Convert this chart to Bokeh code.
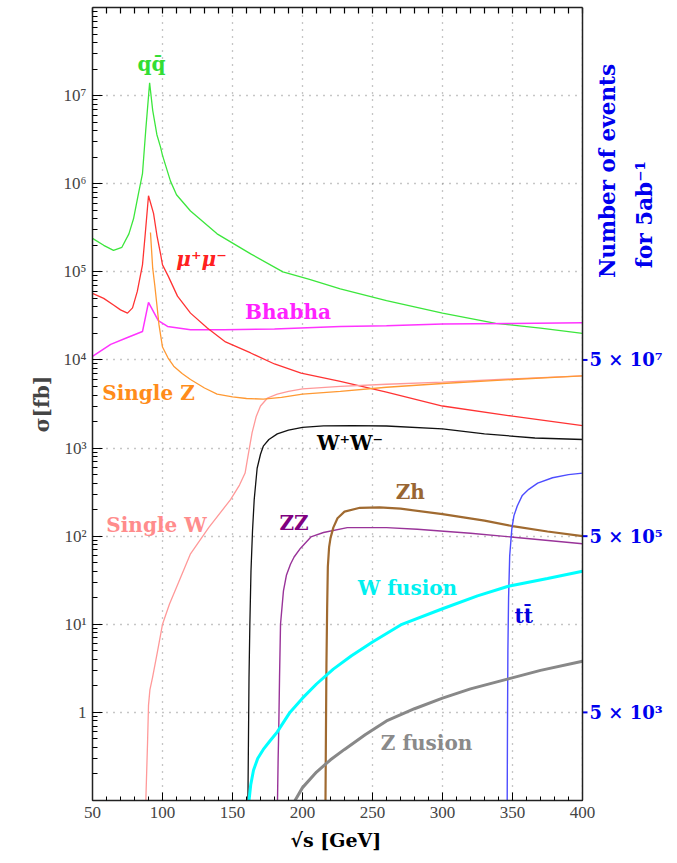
import numpy as np
from bokeh.plotting import figure
from bokeh.models import (LinearAxis, FixedTicker, Range1d, ColumnDataSource, BoxAnnotation,
                          Span, Title)
from bokeh.core.properties import value
from bokeh.embed import file_html
from bokeh.resources import INLINE

# ---------------- data (sqrt(s) in GeV, sigma in fb) ----------------
qq_x = [50, 58, 65, 71, 76, 79.3, 83, 85.7, 88, 90.8, 93, 96, 98.6, 100, 105.7, 110, 120, 139, 163, 186, 205, 227, 260, 300, 338, 370, 400]
qq_y = [2.4e5, 2.0e5, 1.75e5, 1.9e5, 2.7e5, 4e5, 8e5, 1.3e6, 4e6, 1.4e7, 6.8e6, 3.6e6, 2.6e6, 2.1e6, 1.07e6, 7.5e5, 4.9e5, 2.7e5, 1.6e5, 1.0e5, 8.2e4, 6.4e4, 4.7e4, 3.4e4, 2.6e4, 2.3e4, 2.0e4]

mumu_x = [50, 58, 65, 70, 75, 78.6, 82, 85.7, 87.5, 90, 93.6, 96, 98.6, 100, 104, 110.7, 120, 132, 145, 163, 180, 199, 227, 260, 300, 350, 400]
mumu_y = [5.7e4, 5.0e4, 4.2e4, 3.7e4, 3.4e4, 3.9e4, 6e4, 1.2e5, 2.5e5, 7.3e5, 4.6e5, 2.6e5, 1.6e5, 1.2e5, 9e4, 5.3e4, 3.4e4, 2.3e4, 1.6e4, 1.2e4, 9e3, 7.1e3, 5.7e3, 4.3e3, 3.0e3, 2.3e3, 1.8e3]

bhabha_x = [50, 63, 75, 85.7, 90, 97, 103.6, 120, 144, 180, 227, 260, 300, 350, 400]
bhabha_y = [1.1e4, 1.5e4, 1.8e4, 2.1e4, 4.5e4, 2.8e4, 2.4e4, 2.2e4, 2.2e4, 2.25e4, 2.4e4, 2.45e4, 2.55e4, 2.6e4, 2.65e4]

singleZ_x = [91.4, 93, 94.5, 96, 97.5, 100, 104, 108, 114, 120, 130, 139, 150, 160, 172, 185, 200, 227, 260, 300, 350, 400]
singleZ_y = [2.8e5, 1.1e5, 7e4, 4.2e4, 2.5e4, 1.4e4, 1.05e4, 8.5e3, 7e3, 6e3, 4.8e3, 4.1e3, 3.8e3, 3.65e3, 3.6e3, 3.75e3, 4.1e3, 4.4e3, 4.9e3, 5.4e3, 6.0e3, 6.6e3]

singleW_x = [88, 89.3, 90, 91, 92.9, 96.4, 100, 105, 110.7, 120, 133, 148.6, 155, 159, 161, 164, 167, 170, 175, 182, 190, 200, 227, 260, 300, 350, 400]
singleW_y = [0.09, 0.44, 1.2, 1.8, 2.5, 4.9, 10, 17, 28, 63, 125, 260, 380, 520, 800, 1.5e3, 2.3e3, 3e3, 3.7e3, 4.1e3, 4.4e3, 4.7e3, 5.0e3, 5.3e3, 5.6e3, 6.1e3, 6.6e3]

ww_x = [161.0, 161.4, 161.8, 162.4, 163.2, 164.3, 165.5, 167.6, 170, 172, 176, 182, 190, 200, 215, 235, 260, 300, 330, 366, 400]
ww_y = [0.09, 0.5, 2.5, 10, 40, 115, 260, 590, 850, 1050, 1250, 1450, 1600, 1720, 1790, 1800, 1780, 1650, 1450, 1300, 1250]

zz_x = [182.1, 182.6, 183, 183.6, 184.3, 186.4, 188.5, 191.4, 194, 198.6, 206, 215, 232, 260, 282, 320, 349, 400]
zz_y = [0.09, 0.3, 0.6, 2.5, 10, 24, 36, 48, 58, 73, 98, 110, 125, 125, 120, 108, 98, 82]

zh_x = [216.4, 216.8, 217.1, 217.6, 218.1, 219, 220, 222, 225, 230, 241, 255, 270, 300, 330, 350, 375, 400]
zh_y = [0.09, 0.8, 3.5, 15, 45, 75, 95, 125, 160, 190, 210, 212, 205, 178, 150, 130, 113, 100]

tt_x = [346.2, 346.4, 346.7, 347.2, 348, 349.5, 351, 353.4, 357, 361.6, 368, 378.6, 390, 400]
tt_y = [0.09, 0.6, 5, 20, 60, 120, 170, 220, 290, 340, 400, 460, 500, 520]

wfus_x = [161.5, 163, 165, 168, 172, 177, 182, 191, 200, 210, 222, 235, 250, 271, 300, 325, 347, 375, 400]
wfus_y = [0.09, 0.15, 0.22, 0.3, 0.38, 0.48, 0.6, 1.0, 1.45, 2.1, 3.1, 4.4, 6.3, 10, 15, 21, 27, 33, 40]

zfus_x = [193, 200, 210, 220, 230, 245, 260, 280, 300, 320, 347, 370, 400]
zfus_y = [0.09, 0.14, 0.21, 0.29, 0.38, 0.56, 0.8, 1.1, 1.45, 1.85, 2.4, 3.0, 3.8]

# curve labels
label_text = ["q\u0071\u0304", "\u03bc\u207a\u03bc\u207b", "Bhabha", "Single Z", "Single W",
              "W\u207aW\u207b", "ZZ", "Zh", "W fusion", "t\u0074\u0304", "Z fusion"]
label_x = [92.1, 127.9, 189.6, 90, 95.7, 234, 194, 277, 275, 358, 288.6]
label_y = [2.3e7, 1.4e5, 3.5e4, 4.2e3, 133, 1.15e3, 141, 316, 25.7, 12.3, 0.45]
label_color = ["#33dd33", "#ff2020", "#ff22ff", "#ff8c1a", "#ff8c8c",
               "#000000", "#800080", "#996633", "#00f0f0", "#0000dd", "#8a8a8a"]
label_style = ["bold", "bold italic", "bold", "bold", "bold",
               "bold", "bold", "bold", "bold", "bold", "bold"]

# axis ticks
x_lo, x_hi = 50, 400
y_lo, y_hi = 0.1, 1e8
x_major = [50, 100, 150, 200, 250, 300, 350, 400]
y_major = [1, 10, 100, 1000, 10000, 100000, 1000000, 10000000]
y_major_labels = ["1", "10\u00b9", "10\u00b2", "10\u00b3", "10\u2074", "10\u2075", "10\u2076", "10\u2077"]
lumi_fb_inv = 5000  # 5 ab^-1
event_ticks = [5000, 500000, 50000000]
event_labels = ["5 \u00d7 10\u00b3", "5 \u00d7 10\u2075", "5 \u00d7 10\u2077"]
right_title = ["Number of events", "for 5ab\u207b\u00b9"]
x_title = "\u221as [GeV]"
y_title = "\u03c3[fb]"

# ---------------- figure ----------------
# the frame is extended to the right edge so that the secondary-axis texts are
# drawn inside it; the plotted region (50..400 GeV) is framed separately.
px_per_gev = 490 / (x_hi - x_lo)
x_end = x_lo + 585 / px_per_gev
p = figure(width=677, height=863, x_range=Range1d(x_lo, x_end), y_range=Range1d(y_lo, y_hi),
           y_axis_type="log", output_backend="svg", toolbar_location=None,
           min_border_left=92, min_border_right=0, min_border_top=7, min_border_bottom=63)
p.background_fill_color = "white"
p.border_fill_color = "white"
p.outline_line_color = None

# grids, covered to the right of 400 GeV
x_minor = list(range(50, 401, 10))
xticker = FixedTicker(ticks=x_major, minor_ticks=x_minor)
yticker = FixedTicker(ticks=y_major,
                      minor_ticks=[m * 10.0 ** d for d in range(-1, 8) for m in range(2, 10)])
for g in p.xgrid:
    g.ticker = xticker
for g in p.ygrid:
    g.ticker = yticker
p.grid.grid_line_color = "#8c8c8c"
p.grid.grid_line_dash = "1 6"
p.grid.grid_line_width = 1.3
p.add_layout(BoxAnnotation(left=x_hi, fill_color="white", fill_alpha=1.0, line_color=None,
                           level="underlay"))

series = [
    (qq_x, qq_y, "#3ce63c", 1.3),
    (bhabha_x, bhabha_y, "#ff33ff", 1.5),
    (mumu_x, mumu_y, "#ff3333", 1.3),
    (singleW_x, singleW_y, "#ff9999", 1.3),
    (singleZ_x, singleZ_y, "#ff9933", 1.3),
    (ww_x, ww_y, "#111111", 1.3),
    (zz_x, zz_y, "#993399", 1.4),
    (zh_x, zh_y, "#a06a30", 2.2),
    (tt_x, tt_y, "#4d4dff", 1.4),
    (wfus_x, wfus_y, "#00ffff", 3.0),
    (zfus_x, zfus_y, "#888888", 3.0),
]
for xs, ys, col, lw in series:
    p.line(xs, ys, line_color=col, line_width=lw)

lsrc = ColumnDataSource(dict(x=label_x, y=label_y, text=label_text, color=label_color, style=label_style))
p.text(x="x", y="y", text="text", source=lsrc, text_color="color",
       text_font=value("DejaVu Serif"), text_font_style="style",
       text_font_size=value("20px"), text_align="center", text_baseline="middle")

# ---------------- axes ----------------
xa = p.xaxis[0]
xa.ticker = xticker
xa.bounds = (x_lo, x_hi)
xa.major_tick_in = 8
xa.major_tick_out = 0
xa.minor_tick_in = 4
xa.minor_tick_out = 0
xa.major_label_text_font = "Liberation Serif"
xa.major_label_text_font_size = "17px"
xa.major_label_standoff = 6
xa.axis_line_color = "#222222"
xa.axis_line_width = 1.5

# x-axis title under the 50..400 GeV region (offset from the frame's left edge, px)
p.add_layout(Title(text=x_title, align="left", offset=198, standoff=12,
                   text_font="DejaVu Serif", text_font_style="bold", text_font_size="19px",
                   text_color="black"), "below")

ya = p.yaxis[0]
ya.ticker = yticker
ya.major_label_overrides = {v: s for v, s in zip(y_major, y_major_labels)}
ya.major_tick_in = 10
ya.major_tick_out = 0
ya.minor_tick_in = 5
ya.minor_tick_out = 0
ya.major_label_text_font = "Liberation Serif"
ya.major_label_text_font_size = "17px"
ya.major_label_standoff = 6
ya.axis_label = y_title
ya.axis_label_text_font = "DejaVu Serif"
ya.axis_label_text_font_style = "bold"
ya.axis_label_text_font_size = "20px"
ya.axis_label_standoff = 7
ya.axis_line_color = "#222222"
ya.axis_line_width = 1.5

# top frame edge with ticks only (no labels)
top = LinearAxis(ticker=FixedTicker(ticks=[], minor_ticks=x_minor), bounds=(x_lo, x_hi),
                 minor_tick_in=6, minor_tick_out=0, minor_tick_line_width=1.2,
                 major_tick_in=0, major_tick_out=0,
                 axis_line_color="#222222", axis_line_width=1.5)
p.add_layout(top, "above")

# right frame edge
p.add_layout(Span(location=x_hi, dimension="height", line_color="#222222", line_width=1.5))

# secondary axis: number of events for 5 ab^-1 (ticks at the equivalent cross sections)
ev_sigma = [n / lumi_fb_inv for n in event_ticks]
tick_len = 5 / px_per_gev
esrc = ColumnDataSource(dict(x0=[x_hi] * len(ev_sigma), x1=[x_hi + tick_len] * len(ev_sigma),
                             y=ev_sigma, lx=[x_hi + 1.4 * tick_len] * len(ev_sigma), text=event_labels))
p.segment(x0="x0", y0="y", x1="x1", y1="y", source=esrc, line_color="#0000ee", line_width=2)
p.text(x="lx", y="y", text="text", source=esrc, text_color="#0000ee",
       text_font=value("DejaVu Serif"), text_font_style="bold", text_font_size=value("18px"),
       text_align="left", text_baseline="middle")

tsrc = ColumnDataSource(dict(x=[x_hi + 25 / px_per_gev, x_hi + 62 / px_per_gev],
                             y=[8.5e4, 1.1e5], text=right_title))
p.text(x="x", y="y", text="text", source=tsrc, angle=np.pi / 2, text_color="#0000ee",
       text_font=value("DejaVu Serif"), text_font_style="bold", text_font_size=value("21.5px"),
       text_align="left", text_baseline="middle")

open("out.html", "w").write(file_html(p, INLINE))
